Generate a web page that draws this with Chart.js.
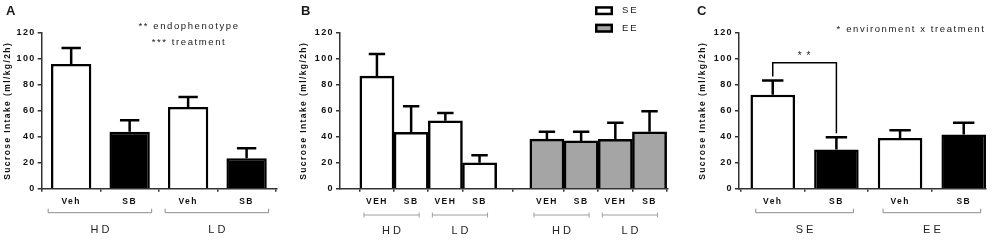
<!DOCTYPE html>
<html>
<head>
<meta charset="utf-8">
<script src="https://cdn.jsdelivr.net/npm/chart.js@4.4.0/dist/chart.umd.min.js"></script>
<style>
  body { margin: 0; background: #fff; width: 1000px; height: 240px; position: relative; overflow: hidden;
         font-family: "Liberation Sans", Arial, sans-serif; color: #1a1a1a; }
  canvas { position: absolute; top: 0; }
  .lbl { position: absolute; white-space: nowrap; line-height: 1; }
  .letter { font-weight: bold; font-size: 13px; }
  .note { font-size: 9.5px; letter-spacing: 1.6px; transform: translate(-50%, -50%); }
</style>
</head>
<body>
<canvas id="chartA" width="290" height="240" style="left:0"></canvas>
<canvas id="chartB" width="400" height="240" style="left:290px"></canvas>
<canvas id="chartC" width="310" height="240" style="left:690px"></canvas>

<div class="lbl letter" style="left:6px;top:4px">A</div>
<div class="lbl letter" style="left:301px;top:4px">B</div>
<div class="lbl letter" style="left:697px;top:4px">C</div>
<div class="lbl note" style="left:189px;top:26px">** endophenotype</div>
<div class="lbl note" style="left:189px;top:42px">*** treatment</div>
<div class="lbl note" style="left:911px;top:29px">* environment x treatment</div>

<script>
// --- panel A: endophenotype x treatment
const aTicks = ['Veh', 'SB', 'Veh', 'SB'];
const aGroups = ['HD', 'LD'];
const aMeans = [96.1, 43.9, 63, 23.4];
const aSems = [12.3, 8.8, 7.7, 7.7];

// --- panel B: environment x endophenotype x treatment
const bTicks = ['VEH', 'SB', 'VEH', 'SB', 'VEH', 'SB', 'VEH', 'SB'];
const bGroups = ['HD', 'LD', 'HD', 'LD'];
const bEnv = ['SE', 'SE', 'SE', 'SE', 'EE', 'EE', 'EE', 'EE'];
const bMeans = [86.8, 43.5, 52.4, 20, 38.2, 36.8, 38, 43.9];
const bSems = [17, 20, 5.9, 5.7, 5.7, 7.1, 12.9, 15.7];
const bLegend = ['SE', 'EE'];

// --- panel C: environment x treatment
const cTicks = ['Veh', 'SB', 'Veh', 'SB'];
const cGroups = ['SE', 'EE'];
const cMeans = [72.4, 30.2, 39, 41.7];
const cSems = [11, 9.5, 6, 9.2];

const yTitle = 'Sucrose Intake (ml/kg/2h)';
const yTicks = [0, 20, 40, 60, 80, 100, 120];

const FONT = '"Liberation Sans", Arial, sans-serif';
const INK = '#111';
const AXIS = '#333';
const fillOf = { Veh: '#ffffff', SB: '#000000', SE: '#ffffff', EE: '#a5a5a5' };

// canvas text spacing (the figure uses tracked-out type)
const spacing = {
  id: 'spacing',
  beforeDraw(chart) { chart.ctx.letterSpacing = '1.4px'; }
};

const errorBars = {
  id: 'errorBars',
  afterDatasetsDraw(chart) {
    const { ctx } = chart;
    const y = chart.scales.y;
    chart.data.datasets.forEach((ds, di) => {
      chart.getDatasetMeta(di).data.forEach((bar, i) => {
        const top = y.getPixelForValue(ds.data[i].y + ds.sem[i]);
        const cap = bar.width * 0.24;
        ctx.save();
        ctx.strokeStyle = '#000';
        ctx.lineWidth = 2.5;
        ctx.beginPath();
        ctx.moveTo(bar.x, bar.y);
        ctx.lineTo(bar.x, top);
        ctx.moveTo(bar.x - cap, top);
        ctx.lineTo(bar.x + cap, top);
        ctx.stroke();
        ctx.restore();
      });
    });
  }
};

// brackets under pairs of bars + group names
const groupAxis = {
  id: 'groupAxis',
  afterDraw(chart, args, o) {
    const { ctx, chartArea } = chart;
    const bars = chart.getDatasetMeta(0).data;
    const yLine = chartArea.bottom + o.drop;
    ctx.save();
    o.labels.forEach((name, k) => {
      const x0 = bars[2 * k].x + o.ext[0];
      const x1 = bars[2 * k + 1].x + o.ext[1];
      ctx.strokeStyle = o.color;
      ctx.lineWidth = 1;
      ctx.beginPath();
      ctx.moveTo(x0, yLine);
      ctx.lineTo(x1, yLine);
      [x0, x1].forEach(x => {
        ctx.moveTo(x, yLine - o.tickUp);
        ctx.lineTo(x, yLine + o.tickDown);
      });
      ctx.stroke();
      ctx.letterSpacing = '3px';
      ctx.fillStyle = '#222';
      ctx.font = '11px ' + FONT;
      ctx.textAlign = 'center';
      ctx.textBaseline = 'middle';
      ctx.fillText(name, (x0 + x1) / 2 + 1.5, yLine + o.textDrop);
    });
    ctx.restore();
  }
};

const boxLegend = {
  id: 'boxLegend',
  afterDraw(chart, args, o) {
    if (!o.items) return;
    const { ctx } = chart;
    ctx.save();
    o.items.forEach((name, k) => {
      const cy = o.y + k * o.dy;
      ctx.fillStyle = fillOf[name];
      ctx.fillRect(o.x, cy - 4.5, 18, 9);
      ctx.strokeStyle = '#000';
      ctx.lineWidth = 2.5;
      ctx.strokeRect(o.x + 1.25, cy - 3.25, 15.5, 6.5);
      ctx.letterSpacing = '2px';
      ctx.fillStyle = '#222';
      ctx.font = '9.5px ' + FONT;
      ctx.textAlign = 'left';
      ctx.textBaseline = 'middle';
      ctx.fillText(name, o.x + 27, cy);
    });
    ctx.restore();
  }
};

const sigBracket = {
  id: 'sigBracket',
  afterDraw(chart, args, o) {
    if (!o.pair) return;
    const { ctx } = chart;
    const y = chart.scales.y;
    const ds = chart.data.datasets[0];
    const bars = chart.getDatasetMeta(0).data;
    const [i, j] = o.pair;
    const top = y.getPixelForValue(o.top);
    ctx.save();
    ctx.strokeStyle = '#000';
    ctx.lineWidth = 1.5;
    ctx.beginPath();
    ctx.moveTo(bars[i].x, y.getPixelForValue(ds.data[i].y + ds.sem[i] + o.gap));
    ctx.lineTo(bars[i].x, top);
    ctx.lineTo(bars[j].x, top);
    ctx.lineTo(bars[j].x, y.getPixelForValue(ds.data[j].y + ds.sem[j] + o.gap));
    ctx.stroke();
    ctx.letterSpacing = '1px';
    ctx.fillStyle = '#222';
    ctx.font = '10px ' + FONT;
    ctx.textAlign = 'center';
    ctx.textBaseline = 'middle';
    ctx.fillText(o.text, (bars[i].x + bars[j].x) / 2, top - 7);
    ctx.restore();
  }
};

function makePanel(id, cfg) {
  // bar slots: one unit apart, with an optional gap before a second block
  const xs = cfg.ticks.map((t, i) => i + (cfg.splitAt && i >= cfg.splitAt ? cfg.gap : 0));
  return new Chart(document.getElementById(id), {
    type: 'bar',
    data: {
      datasets: [{
        data: cfg.means.map((m, i) => ({ x: xs[i], y: m })),
        sem: cfg.sems,
        backgroundColor: cfg.fills,
        borderColor: '#000',
        borderWidth: 2.5,
        grouped: false,
        categoryPercentage: 1,
        barPercentage: cfg.barPct
      }]
    },
    options: {
      responsive: false,
      animation: false,
      layout: { padding: { top: 33, right: cfg.padRight, left: 0, bottom: 0 } },
      plugins: {
        legend: { display: false },
        tooltip: { enabled: false },
        groupAxis: cfg.groupAxis,
        boxLegend: cfg.legend || {},
        sigBracket: cfg.sig || {}
      },
      scales: {
        x: {
          type: 'linear',
          min: cfg.xMin,
          max: cfg.xMax,
          bounds: 'data',
          offset: false,
          afterBuildTicks: s => { s.ticks = xs.map(v => ({ value: v })); },
          afterFit: s => { s.height = 51.3; },
          ticks: {
            callback: (v, i) => cfg.ticks[i],
            autoSkip: false,
            maxRotation: 0,
            minRotation: 0,
            color: INK,
            padding: 5,
            font: { family: FONT, size: 8.5, weight: 'bold' }
          },
          grid: { drawOnChartArea: false, tickLength: 3, color: AXIS, lineWidth: 1.5 },
          border: { color: AXIS, width: 1.5 }
        },
        y: {
          min: 0,
          max: 120,
          afterBuildTicks: s => { s.ticks = yTicks.map(v => ({ value: v })); },
          afterFit: s => { s.width = cfg.axisLeft; },
          ticks: {
            color: INK,
            padding: 2,
            font: { family: FONT, size: 9, weight: 'bold' }
          },
          title: {
            display: true,
            text: yTitle,
            color: INK,
            font: { family: FONT, size: 8.5, weight: 'bold' },
            padding: { top: cfg.titlePad, bottom: 0 }
          },
          grid: { drawOnChartArea: false, tickLength: 4, color: AXIS, lineWidth: 1.5 },
          border: { color: AXIS, width: 1.5 }
        }
      }
    },
    plugins: [spacing, errorBars, groupAxis, boxLegend, sigBracket]
  });
}

makePanel('chartA', {
  ticks: aTicks, means: aMeans, sems: aSems,
  fills: aTicks.map(t => fillOf[t]),
  xMin: -0.504, xMax: 3.52, barPct: 0.69,
  axisLeft: 41.7, padRight: 13, titlePad: 2.5,
  groupAxis: { labels: aGroups, ext: [-23, 22], drop: 24, tickUp: 4, tickDown: 0, color: '#8c8c8c', textDrop: 17.5 }
});

makePanel('chartB', {
  ticks: bTicks, means: bMeans, sems: bSems,
  fills: bEnv.map(e => fillOf[e]),
  splitAt: 4, gap: 0.97,
  xMin: -1.08, xMax: 8.51, barPct: 1,
  axisLeft: 50, padRight: 22, titlePad: 8.5,
  groupAxis: { labels: bGroups, ext: [-13, 8], drop: 26.3, tickUp: 2.5, tickDown: 2.5, color: '#a0a0a0', textDrop: 15.5 },
  legend: { items: bLegend, x: 305, y: 10.7, dy: 17.5 }
});

makePanel('chartC', {
  ticks: cTicks, means: cMeans, sems: cSems,
  fills: cTicks.map(t => fillOf[t]),
  xMin: -0.53, xMax: 3.35, barPct: 0.70,
  axisLeft: 49, padRight: 14, titlePad: 7.5,
  groupAxis: { labels: cGroups, ext: [-17, 17], drop: 24, tickUp: 4, tickDown: 0, color: '#8c8c8c', textDrop: 17.5 },
  sig: { pair: [0, 1], top: 97, gap: 3, text: '* *' }
});
</script>
</body>
</html>
